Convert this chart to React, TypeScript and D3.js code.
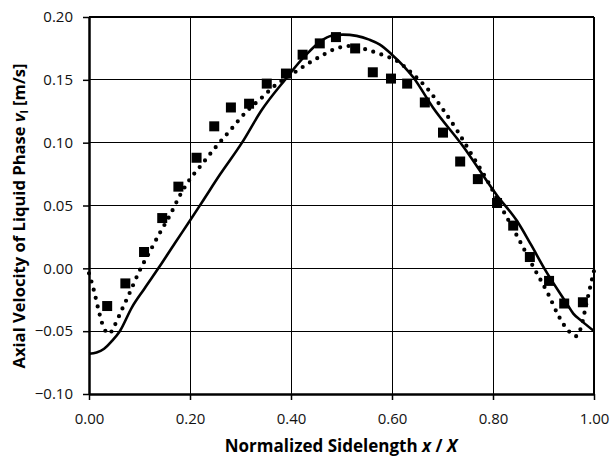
import { useEffect, useRef } from "react";
import * as d3 from "d3";

// measured (squares)
const measured: [number, number][] = [
  [0.036, -0.030], [0.072, -0.012], [0.109, 0.013], [0.145, 0.040], [0.177, 0.065],
  [0.213, 0.088], [0.248, 0.113], [0.281, 0.128], [0.317, 0.131], [0.352, 0.147],
  [0.390, 0.155], [0.423, 0.170], [0.457, 0.179], [0.489, 0.184], [0.527, 0.175],
  [0.562, 0.156], [0.598, 0.151], [0.630, 0.147], [0.665, 0.132], [0.701, 0.108],
  [0.735, 0.085], [0.770, 0.071], [0.808, 0.052], [0.840, 0.034], [0.873, 0.009],
  [0.911, -0.010], [0.941, -0.028], [0.978, -0.027],
];

// simulation (solid)
const solid: [number, number][] = [
  [0, -0.068], [0.015, -0.067], [0.03, -0.064], [0.045, -0.058], [0.061, -0.050],
  [0.085, -0.031], [0.11, -0.016], [0.139, 0.001], [0.17, 0.020], [0.2, 0.038],
  [0.226, 0.054], [0.26, 0.075], [0.303, 0.100], [0.342, 0.126], [0.388, 0.150],
  [0.43, 0.170], [0.46, 0.181], [0.48, 0.185], [0.503, 0.186], [0.53, 0.185],
  [0.555, 0.182], [0.576, 0.178], [0.6, 0.170], [0.642, 0.152], [0.681, 0.128],
  [0.741, 0.097], [0.808, 0.058], [0.847, 0.038], [0.875, 0.019], [0.903, -0.001],
  [0.946, -0.028], [0.959, -0.036], [0.976, -0.042], [1.0, -0.050],
];

// model (dotted)
const dotted: [number, number][] = [
  [0.0, -0.004], [0.01, -0.018], [0.02, -0.035], [0.03, -0.048], [0.04, -0.052],
  [0.05, -0.046], [0.065, -0.033], [0.08, -0.020], [0.10, -0.002], [0.12, 0.013],
  [0.14, 0.028], [0.16, 0.042], [0.18, 0.058], [0.20, 0.071], [0.22, 0.081],
  [0.25, 0.096], [0.28, 0.110], [0.31, 0.124], [0.34, 0.135], [0.37, 0.146],
  [0.40, 0.154], [0.43, 0.162], [0.46, 0.169], [0.49, 0.175], [0.52, 0.177],
  [0.55, 0.174], [0.58, 0.170], [0.61, 0.165], [0.64, 0.155], [0.67, 0.143],
  [0.70, 0.127], [0.73, 0.109], [0.76, 0.089], [0.79, 0.069], [0.82, 0.046],
  [0.85, 0.024], [0.88, 0.001], [0.91, -0.021], [0.93, -0.038], [0.95, -0.050],
  [0.965, -0.054], [0.975, -0.046], [0.985, -0.028], [1.0, -0.002],
];

const xTicks = [0, 0.2, 0.4, 0.6, 0.8, 1.0];
const yTicks = [-0.1, -0.05, 0, 0.05, 0.1, 0.15, 0.2];

export default function App() {
  const svgRef = useRef<SVGSVGElement>(null);

  useEffect(() => {
    const svg = d3.select(svgRef.current);
    svg.selectAll("*").remove();

    const left = 89, right = 594, top = 17, bottom = 394;
    const x = d3.scaleLinear().domain([0, 1]).range([left, right]);
    const y = d3.scaleLinear().domain([-0.1, 0.2]).range([bottom, top]);
    const font = "'Open Sans', sans-serif";

    // grid + frame
    const g = svg.append("g").attr("shape-rendering", "crispEdges");
    g.selectAll("line.gx").data(xTicks.slice(1, -1)).enter().append("line").attr("class", "gx")
      .attr("x1", d => x(d)).attr("x2", d => x(d)).attr("y1", top).attr("y2", bottom)
      .attr("stroke", "#000").attr("stroke-width", 1);
    g.selectAll("line.gy").data(yTicks.slice(1, -1)).enter().append("line").attr("class", "gy")
      .attr("x1", left).attr("x2", right).attr("y1", d => y(d)).attr("y2", d => y(d))
      .attr("stroke", "#000").attr("stroke-width", 1);
    g.append("line").attr("x1", left).attr("x2", right).attr("y1", top).attr("y2", top)
      .attr("stroke", "#000").attr("stroke-width", 2);
    g.append("line").attr("x1", right).attr("x2", right).attr("y1", top).attr("y2", bottom)
      .attr("stroke", "#000").attr("stroke-width", 2);

    // axes
    const ax = svg.append("g").attr("transform", `translate(0,${bottom})`)
      .call(d3.axisBottom(x).tickValues(xTicks).tickSize(6).tickSizeOuter(0).tickPadding(10).tickFormat(d3.format(".2f")));
    const ay = svg.append("g").attr("transform", `translate(${left},0)`)
      .call(d3.axisLeft(y).tickValues(yTicks).tickSize(6).tickSizeOuter(0).tickPadding(10).tickFormat(d3.format(".2f")));
    [ax, ay].forEach(a => {
      a.select(".domain").attr("stroke", "#000").attr("stroke-width", 2.5);
      a.selectAll(".tick line").attr("stroke", "#000").attr("stroke-width", 1.5);
      a.selectAll(".tick text").attr("font-family", font).attr("font-size", 15).attr("fill", "#111");
    });
    ax.selectAll(".tick text").attr("dy", "0.9em");

    const line = d3.line<[number, number]>().x(d => x(d[0])).y(d => y(d[1])).curve(d3.curveMonotoneX);

    svg.append("path").attr("d", line(dotted)).attr("fill", "none").attr("stroke", "#000")
      .attr("stroke-width", 4.2).attr("stroke-linecap", "round").attr("stroke-dasharray", "0 8.5");
    svg.append("path").attr("d", line(solid)).attr("fill", "none").attr("stroke", "#000")
      .attr("stroke-width", 2.6).attr("stroke-linejoin", "round");

    const s = 10;
    svg.selectAll("rect.sq").data(measured).enter().append("rect").attr("class", "sq")
      .attr("x", d => x(d[0]) - s / 2).attr("y", d => y(d[1]) - s / 2)
      .attr("width", s).attr("height", s).attr("fill", "#000");

    // x title
    const xt = svg.append("text").attr("x", 341).attr("y", 452)
      .attr("text-anchor", "middle").attr("font-family", font).attr("font-size", 17)
      .attr("font-weight", "bold").attr("fill", "#000");
    xt.append("tspan").text("Normalized Sidelength ");
    xt.append("tspan").attr("font-style", "italic").text("x");
    xt.append("tspan").text(" / ");
    xt.append("tspan").attr("font-style", "italic").text("X");

    // y title
    const yt = svg.append("text").attr("transform", "translate(25,216) rotate(-90)")
      .attr("text-anchor", "middle").attr("font-family", font).attr("font-size", 16.6)
      .attr("font-weight", "bold").attr("fill", "#000");
    yt.append("tspan").text("Axial Velocity of Liquid Phase ");
    yt.append("tspan").attr("font-style", "italic").text("v");
    yt.append("tspan").attr("font-size", 11).attr("dy", 3).text("l");
    yt.append("tspan").attr("dy", -3).text(" [m/s]");
  }, []);

  return (
    <svg ref={svgRef} width={611} height={457}
      style={{ position: "absolute", left: 0, top: 0, background: "#fff" }} />
  );
}
